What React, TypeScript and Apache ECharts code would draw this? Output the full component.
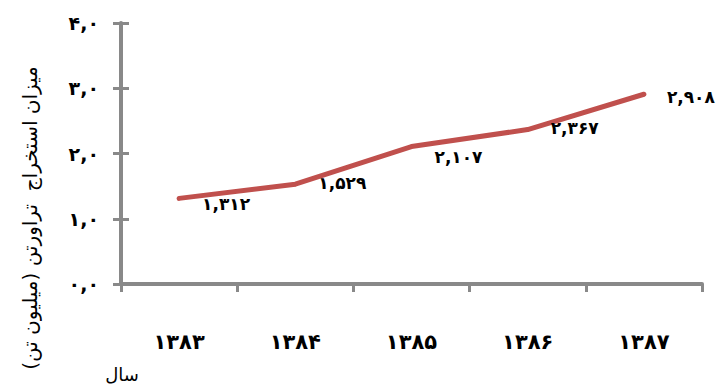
import React, { useEffect, useRef } from "react";
import * as echarts from "echarts";

// Travertine extraction by year (million tonnes)
const years = ["1383", "1384", "1385", "1386", "1387"];
const extraction = [1.312, 1.529, 2.107, 2.367, 2.908];
const yMin = 0;
const yMax = 4;
const yStep = 1;

const yAxisTitle = "میزان استخراج  تراورتن (میلیون تن)";
const xAxisTitle = "سال";

// vertical nudges for the value labels
const labelNudgeY = [6, -1, 10, -2, 3];

const FA_DIGITS = "۰۱۲۳۴۵۶۷۸۹";
const toFa = (s: string) =>
  s.replace(/\d/g, (d) => FA_DIGITS[+d]).replace(".", ",");

const AXIS_GRAY = "#898989";
const LINE_RED = "#C0504D";
const FONT = "'DejaVu Sans', 'Noto Sans', sans-serif";

export default function App() {
  const ref = useRef<HTMLDivElement>(null);

  useEffect(() => {
    if (!ref.current) return;
    const chart = echarts.init(ref.current, undefined, { renderer: "svg" });

    const yAxisBase = {
      type: "value" as const,
      min: yMin,
      max: yMax,
      interval: yStep,
      position: "left" as const,
      splitLine: { show: false },
    };

    chart.setOption({
      animation: false,
      backgroundColor: "#ffffff",
      grid: { left: 121, right: 20, top: 23, bottom: 103 },
      xAxis: {
        type: "category",
        data: years,
        boundaryGap: true,
        axisLine: { lineStyle: { color: AXIS_GRAY, width: 4 } },
        axisTick: {
          show: true,
          length: 8,
          alignWithLabel: false,
          lineStyle: { color: AXIS_GRAY, width: 3 },
        },
        axisLabel: {
          margin: 47,
          color: "#000",
          fontFamily: FONT,
          fontWeight: "bold",
          fontSize: 21,
          formatter: (v: string) => toFa(v),
        },
        splitLine: { show: false },
      },
      yAxis: [
        {
          ...yAxisBase,
          axisLine: { show: true, lineStyle: { color: AXIS_GRAY, width: 4 } },
          axisTick: {
            show: true,
            length: 8,
            lineStyle: { color: AXIS_GRAY, width: 3 },
          },
          axisLabel: {
            margin: 22,
            color: "#000",
            fontFamily: FONT,
            fontWeight: "bold",
            fontSize: 19,
            formatter: (v: number) => toFa(v.toFixed(1)),
          },
        },
        {
          // inner half of the crossing tick marks
          ...yAxisBase,
          axisLine: { show: false },
          axisTick: {
            show: true,
            inside: true,
            length: 8,
            lineStyle: { color: AXIS_GRAY, width: 3 },
          },
          axisLabel: { show: false },
        },
      ],
      series: [
        {
          type: "line",
          yAxisIndex: 0,
          data: extraction.map((v, i) => ({
            value: v,
            label: { offset: [0, labelNudgeY[i]] },
          })),
          showSymbol: true,
          symbol: "circle",
          symbolSize: 4,
          itemStyle: { color: LINE_RED },
          lineStyle: { color: LINE_RED, width: 5, cap: "round", join: "round" },
          label: {
            show: true,
            position: "right",
            distance: 21,
            color: "#000",
            fontFamily: FONT,
            fontWeight: "bold",
            fontSize: 17,
            formatter: (p: any) => toFa(Number(p.value).toFixed(3)),
          },
        },
      ],
      graphic: [
        {
          type: "text",
          x: 30,
          y: 218,
          rotation: Math.PI / 2,
          style: {
            text: "\u200F" + yAxisTitle + "\u200F",
            fill: "#000",
            font: `20px ${FONT}`,
            align: "center",
            verticalAlign: "middle",
          },
        },
        {
          type: "text",
          x: 122,
          y: 374,
          style: {
            text: xAxisTitle,
            fill: "#000",
            font: `18px ${FONT}`,
            align: "center",
            verticalAlign: "middle",
          },
        },
      ],
    });

    return () => chart.dispose();
  }, []);

  return (
    <div
      ref={ref}
      style={{ position: "fixed", left: 0, top: 0, width: 722, height: 387 }}
    />
  );
}
